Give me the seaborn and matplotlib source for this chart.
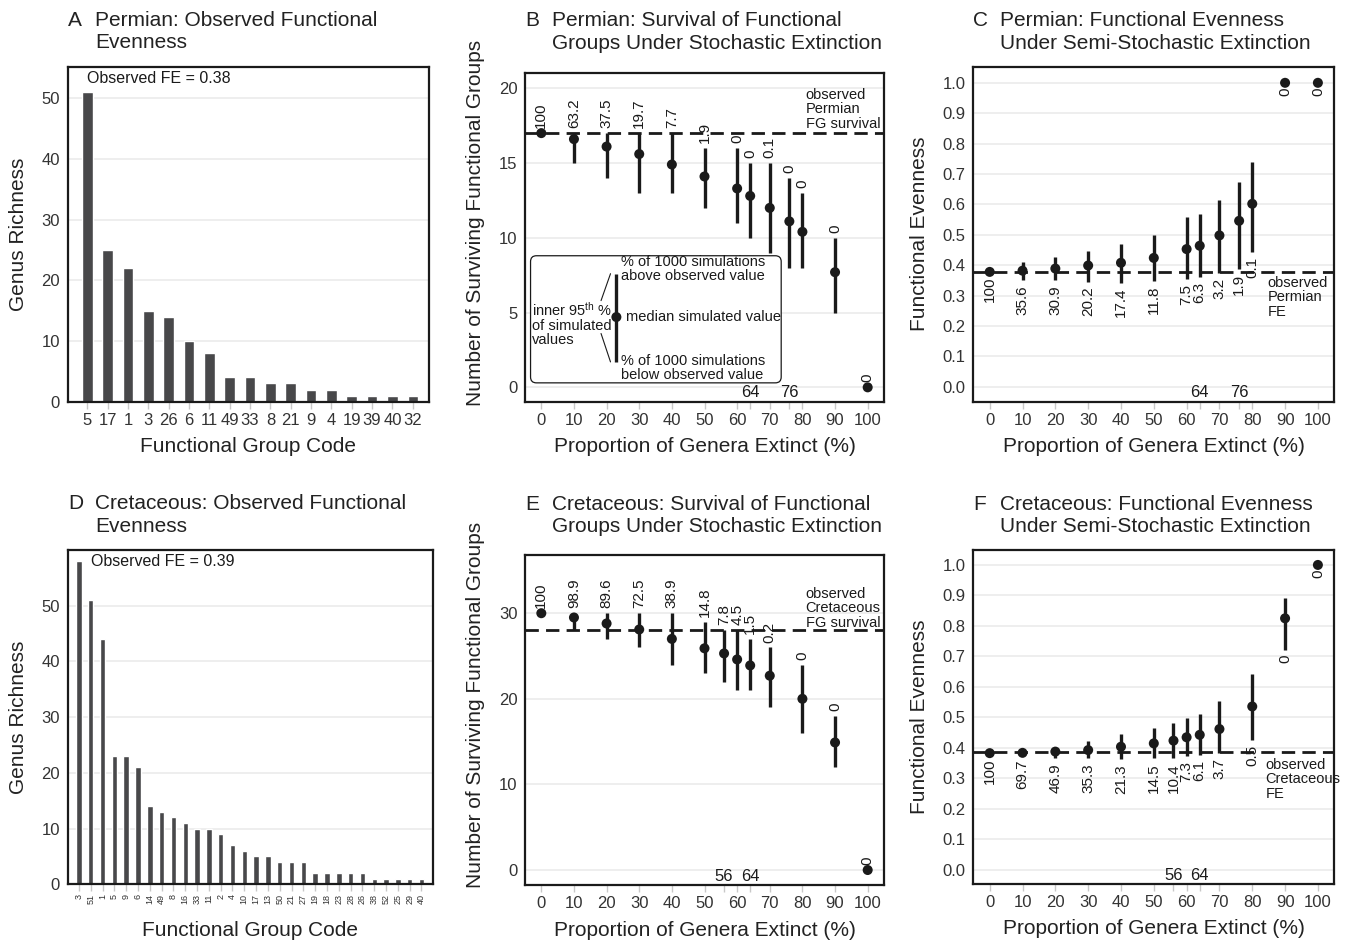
import numpy as np
import pandas as pd
import matplotlib
matplotlib.use("Agg")
import matplotlib.pyplot as plt
import matplotlib.transforms as mtransforms
from matplotlib.patches import FancyBboxPatch
import seaborn as sns

sns.set_theme(style="white")
plt.rcParams['font.family'] = ['Liberation Sans', 'DejaVu Sans']
plt.rcParams['mathtext.fontset'] = 'custom'
plt.rcParams['mathtext.rm'] = 'Liberation Sans'
plt.rcParams['mathtext.it'] = 'Liberation Sans:italic'

# ---------------- data ----------------
perm_codes = ["5", "17", "1", "3", "26", "6", "11", "49", "33", "8", "21", "9", "4", "19", "39", "40", "32"]
perm_rich = [51, 25, 22, 15, 14, 10, 8, 4, 4, 3, 3, 2, 2, 1, 1, 1, 1]
perm_fe_text = "Observed FE = 0.38"

cret_codes = ["3", "51", "1", "5", "9", "6", "14", "49", "8", "16", "33", "11", "2", "4", "10",
              "17", "13", "50", "21", "27", "19", "18", "23", "28", "26", "38", "52", "25", "29", "40"]
cret_rich = [58, 51, 44, 23, 23, 21, 14, 13, 12, 11, 10, 10, 9, 7, 6, 5, 5, 4, 4, 4, 2, 2, 2, 2, 2, 1, 1, 1, 1, 1]
cret_fe_text = "Observed FE = 0.39"

perm_ext = [0, 10, 20, 30, 40, 50, 60, 64, 70, 76, 80, 90, 100]
perm_fg_med = [17, 16.6, 16.1, 15.6, 14.9, 14.1, 13.3, 12.8, 12.0, 11.1, 10.4, 7.7, 0]
perm_fg_lo = [17, 15, 14, 13, 13, 12, 11, 10, 9, 8, 8, 5, 0]
perm_fg_hi = [17, 17, 17, 17, 17, 16, 16, 15, 15, 14, 13, 10, 0]
perm_fg_pct = ["100", "63.2", "37.5", "19.7", "7.7", "1.9", "0", "0", "0.1", "0", "0", "0", "0"]
perm_fg_obs = 17

perm_fe_med = [0.378, 0.382, 0.389, 0.399, 0.408, 0.424, 0.453, 0.464, 0.498, 0.546, 0.602, 1.0, 1.0]
perm_fe_lo = [0.378, 0.351, 0.351, 0.345, 0.342, 0.349, 0.353, 0.362, 0.373, 0.389, 0.444, 1.0, 1.0]
perm_fe_hi = [0.378, 0.410, 0.428, 0.447, 0.469, 0.501, 0.557, 0.567, 0.616, 0.673, 0.740, 1.0, 1.0]
perm_fe_pct = ["100", "35.6", "30.9", "20.2", "17.4", "11.8", "7.5", "6.3", "3.2", "1.9", "0.1", "0", "0"]
perm_fe_obs = 0.378

cret_ext = [0, 10, 20, 30, 40, 50, 56, 60, 64, 70, 80, 90, 100]
cret_fg_med = [30, 29.5, 28.8, 28.1, 27.0, 25.9, 25.3, 24.6, 23.9, 22.7, 20.0, 14.9, 0]
cret_fg_lo = [30, 28, 27, 26, 24, 23, 22, 21, 21, 19, 16, 12, 0]
cret_fg_hi = [30, 30, 30, 30, 30, 29, 28, 28, 27, 26, 24, 18, 0]
cret_fg_pct = ["100", "98.9", "89.6", "72.5", "38.9", "14.8", "7.8", "4.5", "1.5", "0.2", "0", "0", "0"]
cret_fg_obs = 28

cret_fe_med = [0.383, 0.384, 0.388, 0.393, 0.404, 0.415, 0.424, 0.435, 0.443, 0.462, 0.536, 0.825, 1.0]
cret_fe_lo = [0.383, 0.377, 0.366, 0.366, 0.363, 0.366, 0.366, 0.372, 0.377, 0.383, 0.426, 0.721, 1.0]
cret_fe_hi = [0.383, 0.390, 0.397, 0.424, 0.445, 0.464, 0.481, 0.497, 0.511, 0.554, 0.643, 0.893, 1.0]
cret_fe_pct = ["100", "69.7", "46.9", "35.3", "21.3", "14.5", "10.4", "7.3", "6.1", "3.7", "0.5", "0", "0"]
cret_fe_obs = 0.388

titles = {
    "A": ("A", "Permian: Observed Functional", "Evenness"),
    "B": ("B", "Permian: Survival of Functional", "Groups Under Stochastic Extinction"),
    "C": ("C", "Permian: Functional Evenness", "Under Semi-Stochastic Extinction"),
    "D": ("D", "Cretaceous: Observed Functional", "Evenness"),
    "E": ("E", "Cretaceous: Survival of Functional", "Groups Under Stochastic Extinction"),
    "F": ("F", "Cretaceous: Functional Evenness", "Under Semi-Stochastic Extinction"),
}

# ---------------- style ----------------
W, H = 1356, 946
BAR = "#48484a"
INK = "#1a1a1a"
TICK_C = "#333333"
GRID_C = "#ebebeb"
LAB_FS = 15
TITLE_FS = 15
TICK_FS = 12
ANN_FS = 11

fig = plt.figure(figsize=(W / 100, H / 100), dpi=100)


def px_axes(l, t, r, b):
    return fig.add_axes([l / W, 1 - b / H, (r - l) / W, (b - t) / H])


def style_axes(ax):
    for s in ax.spines.values():
        s.set_visible(True)
        s.set_color(INK)
        s.set_linewidth(1.6)
    ax.set_axisbelow(True)
    ax.yaxis.grid(True, color=GRID_C, lw=1.2)
    ax.xaxis.grid(False)
    ax.tick_params(axis='x', length=5, width=1, color="#c8c8c8", labelsize=TICK_FS,
                   labelcolor=TICK_C, pad=3, bottom=True)
    ax.tick_params(axis='y', length=0, labelsize=TICK_FS, labelcolor=TICK_C, pad=5.5, left=True)


def title(ax_left_px, base_px, key):
    letter, l1, l2 = titles[key]
    y1 = 1 - base_px / H
    y2 = 1 - (base_px + 22.3) / H
    fig.text(ax_left_px / W, y1, letter, fontsize=TITLE_FS, va='baseline', ha='left', color="#222222")
    fig.text((ax_left_px + 27) / W, y1, l1, fontsize=TITLE_FS, va='baseline', ha='left', color="#222222")
    fig.text((ax_left_px + 27) / W, y2, l2, fontsize=TITLE_FS, va='baseline', ha='left', color="#222222")


def bar_panel(ax, codes, rich, fe_text, fe_x, fe_y, ylim, xlim, small=False):
    df = pd.DataFrame({"code": codes, "rich": rich})
    sns.barplot(data=df, x="code", y="rich", order=codes, color=BAR, saturation=1,
                width=0.52 if not small else 0.46, errorbar=None, ax=ax)
    style_axes(ax)
    ax.set_ylim(*ylim)
    ax.set_xlim(*xlim)
    ax.set_yticks([0, 10, 20, 30, 40, 50])
    if small:
        ax.tick_params(axis='x', labelsize=6.5, labelrotation=90, pad=2)
    ax.set_xlabel("Functional Group Code", fontsize=LAB_FS, color="#222222")
    ax.set_ylabel("Genus Richness", fontsize=LAB_FS, color="#222222")
    ax.text(fe_x, fe_y, fe_text, fontsize=11.5, va='center', ha='left', color=INK)


def sim_panel(ax, ext, med, lo, hi, pct, obs, obs_text, obs_xy, ylim, yticks, yfmt,
              extra_x, above, ylabel):
    style_axes(ax)
    ax.axhline(obs, color=INK, lw=2.0, ls=(0, (4.8, 2.6)), zorder=2)
    ax.vlines(ext, lo, hi, color=INK, lw=2.4, zorder=3)
    sns.scatterplot(x=ext, y=med, ax=ax, color=INK, s=52, edgecolor='none', zorder=4, legend=False)
    for x, l, h, p in zip(ext, lo, hi, pct):
        if above:
            ax.annotate(p, (x, h), xytext=(0, 3.5), textcoords='offset points', rotation=90,
                        ha='center', va='bottom', fontsize=ANN_FS, color=INK)
        else:
            ax.annotate(p, (x, l), xytext=(0, -3.5), textcoords='offset points', rotation=90,
                        ha='center', va='top', fontsize=ANN_FS, color=INK)
    ax.set_xlim(-5, 105)
    ax.set_ylim(*ylim)
    ax.set_xticks(ext)
    ax.set_xticklabels([str(x) if x % 10 == 0 else "" for x in ext])
    ax.set_yticks(yticks)
    ax.set_yticklabels([yfmt.format(v) for v in yticks])
    trans = mtransforms.blended_transform_factory(ax.transData, ax.transAxes)
    for x in extra_x:
        ax.text(x, 0.027, str(x), transform=trans, ha='center', va='center', fontsize=12, color=INK)
    ax.text(obs_xy[0], obs_xy[1], obs_text, ha='left', va='top', fontsize=10.5, color=INK,
            linespacing=1.05)
    ax.set_xlabel("Proportion of Genera Extinct (%)", fontsize=LAB_FS, color="#222222")
    ax.set_ylabel(ylabel, fontsize=LAB_FS, color="#222222")


# ---------------- panels ----------------
axA = px_axes(67.7, 66.7, 429.3, 401.7)
bar_panel(axA, perm_codes, perm_rich, perm_fe_text, 0, 53.2, (0, 55.2), (-0.96, 16.81))
axA.xaxis.set_label_coords(0.5, -0.105)
axA.yaxis.set_label_coords(-0.109, 0.5)

axD = px_axes(67.7, 550, 432.7, 884.3)
bar_panel(axD, cret_codes, cret_rich, cret_fe_text, 1, 57.9, (0, 60), (-0.95, 29.95), small=True)
axD.xaxis.set_label_coords(0.5, -0.11)
axD.yaxis.set_label_coords(-0.109, 0.5)

axB = px_axes(525, 73.3, 884, 401.7)
sim_panel(axB, perm_ext, perm_fg_med, perm_fg_lo, perm_fg_hi, perm_fg_pct, perm_fg_obs,
          "observed\nPermian\nFG survival", (81, 20.05), (-0.96, 21.0), [0, 5, 10, 15, 20], "{:g}",
          [64, 76], True, "Number of Surviving Functional Groups")
axB.xaxis.set_label_coords(0.5, -0.108)
axB.yaxis.set_label_coords(-0.112, 0.545)

# legend box in panel B
box = FancyBboxPatch((-3.3, 0.3), 76.8, 8.5, boxstyle="round,pad=0,rounding_size=1.8",
                     mutation_aspect=0.218, fc='white', ec=INK, lw=0.9, zorder=5)
axB.add_patch(box)
axB.vlines([23], [1.7], [7.6], color=INK, lw=2.4, zorder=6)
axB.scatter([23], [4.7], s=52, color=INK, edgecolor='none', zorder=7)
axB.plot([18.3, 21.2], [5.8, 7.6], color=INK, lw=0.8, zorder=6)
axB.plot([18.3, 21.2], [3.6, 1.7], color=INK, lw=0.8, zorder=6)
axB.text(24.5, 7.9, "% of 1000 simulations\nabove observed value", ha='left', va='center',
         fontsize=10.5, color=INK, linespacing=1.0, zorder=7)
axB.text(25.8, 4.7, "median simulated value", ha='left', va='center', fontsize=10.5, color=INK, zorder=7)
axB.text(24.5, 1.28, "% of 1000 simulations\nbelow observed value", ha='left', va='center',
         fontsize=10.5, color=INK, linespacing=1.0, zorder=7)
axB.text(-2.8, 4.25, "inner 95$^{\\rm th}$ %\nof simulated\nvalues", ha='left', va='center',
         fontsize=10.5, color=INK, linespacing=1.0, zorder=7)

axC = px_axes(973.3, 66.7, 1334.3, 401.7)
sim_panel(axC, perm_ext, perm_fe_med, perm_fe_lo, perm_fe_hi, perm_fe_pct, perm_fe_obs,
          "observed\nPermian\nFE", (84.6, 0.365), (-0.049, 1.053), [i / 10 for i in range(11)], "{:.1f}",
          [64, 76], False, "Functional Evenness")
axC.xaxis.set_label_coords(0.5, -0.105)
axC.yaxis.set_label_coords(-0.122, 0.5)

axE = px_axes(525, 555, 884, 885)
sim_panel(axE, cret_ext, cret_fg_med, cret_fg_lo, cret_fg_hi, cret_fg_pct, cret_fg_obs,
          "observed\nCretaceous\nFG survival", (81, 33.1), (-1.75, 36.8), [0, 10, 20, 30], "{:g}",
          [56, 64], True, "Number of Surviving Functional Groups")
axE.xaxis.set_label_coords(0.5, -0.108)
axE.yaxis.set_label_coords(-0.112, 0.545)

axF = px_axes(973.3, 550, 1334.3, 884.3)
sim_panel(axF, cret_ext, cret_fe_med, cret_fe_lo, cret_fe_hi, cret_fe_pct, cret_fe_obs,
          "observed\nCretaceous\nFE", (84.0, 0.368), (-0.047, 1.049), [i / 10 for i in range(11)], "{:.1f}",
          [56, 64], False, "Functional Evenness")
axF.xaxis.set_label_coords(0.5, -0.105)
axF.yaxis.set_label_coords(-0.122, 0.5)

# titles
title(68, 26, "A")
title(525.5, 26.5, "B")
title(973, 26.5, "C")
title(68, 509.3, "D")
title(525.5, 509.5, "E")
title(973, 509.5, "F")

fig.savefig("out.png", dpi=100, facecolor='white')
